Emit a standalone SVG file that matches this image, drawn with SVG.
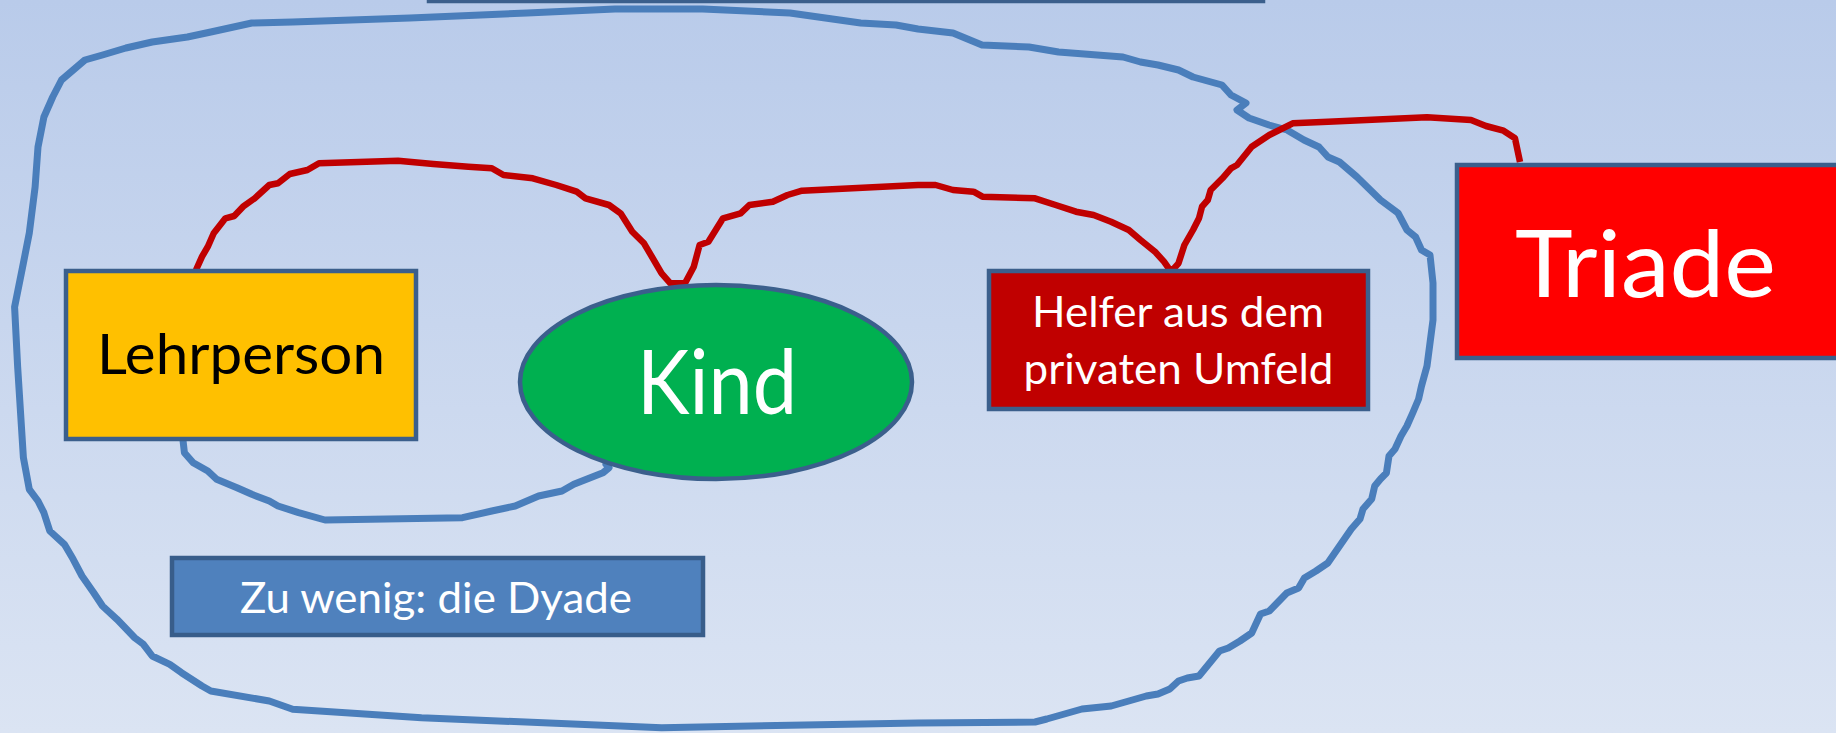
<svg xmlns="http://www.w3.org/2000/svg" width="1836" height="733" viewBox="0 0 1836 733">
<defs>
<linearGradient id="bg" x1="0" y1="0" x2="0" y2="1">
<stop offset="0" stop-color="#b9cbea"/>
<stop offset="1" stop-color="#dbe4f3"/>
</linearGradient>
<style>
.box{stroke:#3b5f8c;stroke-width:4.5}
.blue{fill:none;stroke:#4a7ebb;stroke-width:7;stroke-linejoin:round;stroke-linecap:round}
.red{fill:none;stroke:#c00000;stroke-width:6.5;stroke-linejoin:round;stroke-linecap:butt}
.t{font-family:Lato,"Open Sans","Liberation Sans",sans-serif;text-anchor:middle}
</style>
</defs>
<rect width="1836" height="733" fill="url(#bg)"/>
<rect x="429" y="-60" width="834" height="61" fill="#4f81bd" class="box"/>
<g id="connectors">
<path id="outer-loop" class="blue" d="M17.6,366 L14.6,307 L23.4,263 L29.3,233 L35.1,187 L38,147 L43.9,117 L52.7,97 L61.5,80 L73.2,70 L84.9,60 L102.5,55 L125.9,48 L152.2,42 L187.4,37 L210.8,32 L251.8,23 L292.7,22 L409.8,18 L527,13 L615,9 L702.6,9 L790,13 L860.7,23 L896,25 L918,29 L953,33 L982,45 L1029,47 L1058.5,52 L1123,57 L1140.5,62 L1158,65 L1178.5,70 L1193,77 L1222,85 L1231,95 L1246,103 L1237,110 L1249,118 L1269,125 L1287,130 L1304,140 L1319,147 L1328,157 L1339.5,162 L1357,177 L1380.5,200 L1398,213 L1407,230 L1415.6,237 L1421.5,250 L1430,255 L1433,283 L1433,320 L1427,366 L1421.5,386 L1418.6,399 L1412.7,413 L1406.9,426 L1401,436 L1395,449 L1389,456 L1386.4,473 L1380.5,479 L1374.7,486 L1371.7,499 L1363,509 L1360,519 L1351.3,529 L1327.8,563 L1316,571 L1304.4,578 L1298.6,588 L1286.8,593 L1281,599 L1269.3,611 L1260.5,614 L1251.7,633 L1240,641 L1228.3,648 L1219.5,651 L1199,676 L1187.3,678 L1178.5,681 L1169.8,689 L1158,694 L1146.3,696 L1128.8,701 L1111.2,706 L1082,709 L1046.8,719 L1035,722 L918,723 L661.6,727.7 L421.5,717.7 L292.7,709.3 L269.3,701 L210.8,691 L202,686 L181.5,672.7 L169.8,664.3 L152.2,656 L143.4,644.3 L134.7,637.7 L117,619.3 L102.5,606 L93.7,592.7 L82,576 L73.2,559.3 L64.4,544.3 L49.8,531 L43.9,512.7 L38,501 L29.3,489.3 L23.4,457.7 Z"/>
<path id="dyade-link" class="blue" d="M182.7,437.7 L184.4,452.7 L193.2,462.7 L207.8,471 L216.6,479.3 L237,487.7 L251.8,494.3 L269.3,501 L278,506 L298.6,512.7 L325,520 L462.5,517.7 L491.8,511 L515.2,506 L538.6,496 L562,491 L573.8,484.3 L603,472.7 L609,467.7 L606,464.3"/>
<path id="triade-link" class="red" d="M196,270 L202,256.7 L207.8,246.7 L213.7,233.3 L225.4,218.3 L234.2,216 L243,206.7 L254.7,198.3 L269.3,185 L278,183.3 L289.8,174 L307.4,170 L319,163.3 L398,160.7 L433.3,164 L468.4,166.7 L491.8,168.3 L503.5,175 L532.8,178.3 L556.2,185 L576.7,191.7 L585.5,198.3 L609,205 L620.6,213.3 L632.3,231.7 L644,243.3 L661.6,273.3 L670.4,283.3 L685,283.3 L693.8,266.7 L699.6,245 L708.4,241.7 L723,218.3 L740.6,213.3 L749.4,205 L772.8,201.7 L787.5,195 L802,190.7 L918,185 L935.6,185 L953,190 L973.6,191.7 L982.4,196.7 L1035,198.3 L1055.6,205 L1076,211.7 L1093.6,215 L1111,221.7 L1128.8,230 L1140.5,240 L1155,251.7 L1164,261.7 L1171,271.7 L1178.5,263.3 L1184.4,245 L1193,230 L1199,218.3 L1202,206.7 L1207.8,200 L1210.7,190 L1222.4,178.3 L1231,168.3 L1237,165 L1251.7,146.7 L1269.3,135 L1292.7,123.3 L1328,121.7 L1427,117.3 L1471,120 L1486,126 L1503.5,130.7 L1515,138.3 L1520,162"/>
</g>
<g id="lehrperson">
<rect x="66" y="271" width="350" height="168" fill="#ffc000" class="box"/>
<text x="241" y="374" class="t" font-size="56" fill="#000" textLength="288" lengthAdjust="spacingAndGlyphs">Lehrperson</text>
</g>
<g id="kind">
<ellipse cx="716" cy="382" rx="196" ry="97" fill="#00b050" class="box"/>
<text x="717" y="414" class="t" font-size="89" fill="#fff" textLength="160" lengthAdjust="spacingAndGlyphs">Kind</text>
</g>
<g id="helfer">
<rect x="989" y="271" width="379" height="138" fill="#c00000" class="box"/>
<text x="1178" y="327" class="t" font-size="42" fill="#fff" textLength="292" lengthAdjust="spacingAndGlyphs">Helfer aus dem</text>
<text x="1178.5" y="384" class="t" font-size="42" fill="#fff" textLength="310" lengthAdjust="spacingAndGlyphs">privaten Umfeld</text>
</g>
<g id="triade">
<rect x="1457" y="165" width="400" height="193" fill="#ff0000" class="box"/>
<text x="1645.5" y="297" class="t" font-size="93" fill="#fff" textLength="261" lengthAdjust="spacingAndGlyphs">Triade</text>
</g>
<g id="dyade">
<rect x="172" y="558" width="531" height="77" fill="#4f81bd" stroke="#385d8a" stroke-width="4.5"/>
<text x="436" y="613" class="t" font-size="42" fill="#fff" textLength="392" lengthAdjust="spacingAndGlyphs">Zu wenig: die Dyade</text>
</g>
</svg>
